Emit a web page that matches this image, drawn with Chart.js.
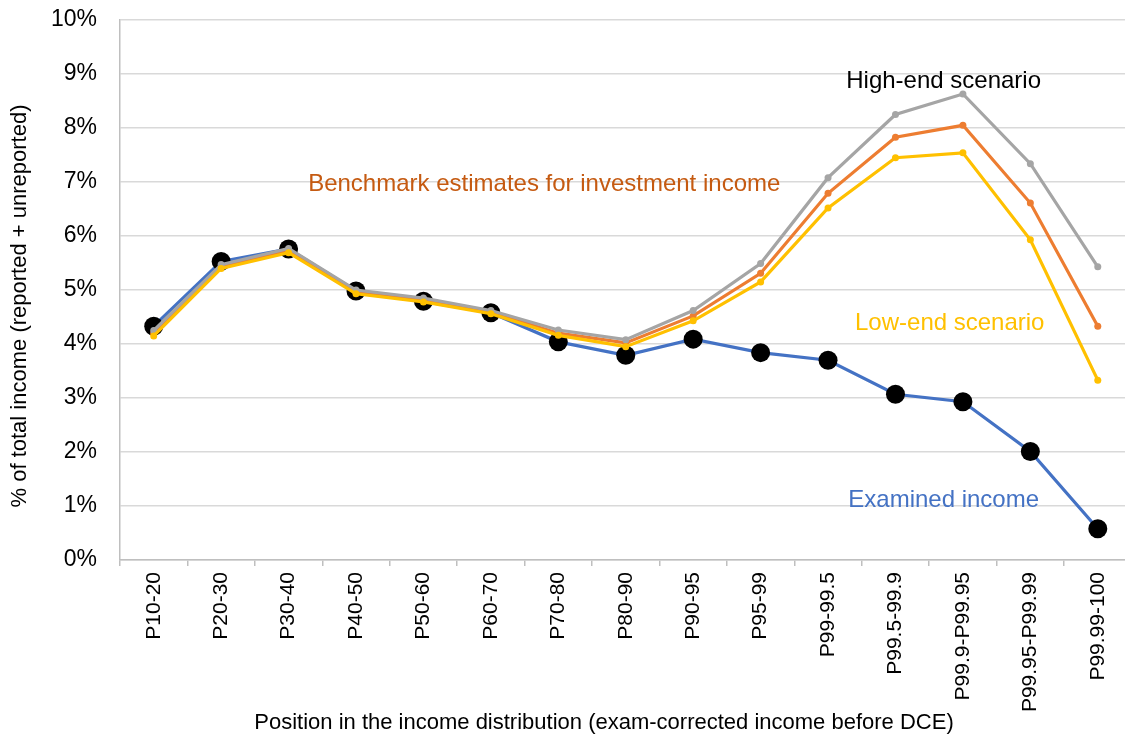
<!DOCTYPE html>
<html>
<head>
<meta charset="utf-8">
<script src="https://cdn.jsdelivr.net/npm/chart.js@4/dist/chart.umd.min.js"></script>
<style>
  html, body { margin: 0; padding: 0; background: #fff; overflow: hidden; }
  #wrap { width: 1125px; height: 738px; overflow: hidden; }
</style>
</head>
<body>
<div id="wrap"><canvas id="chart" width="1141" height="738"></canvas></div>
<script>
// categories and series (% of total income)
const categories = ['P10-20', 'P20-30', 'P30-40', 'P40-50', 'P50-60', 'P60-70', 'P70-80', 'P80-90',
  'P90-95', 'P95-99', 'P99-99.5', 'P99.5-99.9', 'P99.9-P99.95', 'P99.95-P99.99', 'P99.99-100'];
const examined  = [4.33, 5.53, 5.76, 4.98, 4.79, 4.58, 4.04, 3.79, 4.09, 3.84, 3.70, 3.07, 2.93, 2.01, 0.58];
const highEnd   = [4.25, 5.47, 5.77, 5.00, 4.85, 4.62, 4.26, 4.08, 4.62, 5.49, 7.08, 8.25, 8.63, 7.34, 5.43];
const benchmark = [4.20, 5.43, 5.73, 4.96, 4.81, 4.59, 4.20, 4.02, 4.52, 5.31, 6.79, 7.83, 8.05, 6.61, 4.33];
const lowEnd    = [4.15, 5.40, 5.69, 4.93, 4.78, 4.56, 4.16, 3.95, 4.43, 5.15, 6.52, 7.45, 7.54, 5.93, 3.33];

const FONT = "'Liberation Sans', Arial, sans-serif";

// text labels placed in data space: x = category index, y = percent
const notes = [
  { text: 'High-end scenario', x: 10.27, y: 8.87, color: '#000000' },
  { text: 'Benchmark estimates for investment income', x: 2.29, y: 6.96, color: '#C55A11' },
  { text: 'Low-end scenario', x: 10.40, y: 4.39, color: '#FFC000' },
  { text: 'Examined income', x: 10.30, y: 1.11, color: '#4472C4' }
];

const notesPlugin = {
  id: 'notes',
  afterDatasetsDraw(chart) {
    const { ctx, scales: { x, y } } = chart;
    const step = x.getPixelForValue(1) - x.getPixelForValue(0);
    ctx.save();
    ctx.font = `24px ${FONT}`;
    ctx.textBaseline = 'middle';
    ctx.textAlign = 'left';
    notes.forEach(n => {
      ctx.fillStyle = n.color;
      ctx.fillText(n.text, x.getPixelForValue(0) + n.x * step, y.getPixelForValue(n.y));
    });
    // x axis title
    ctx.fillStyle = '#000';
    ctx.textAlign = 'center';
    ctx.font = `22px ${FONT}`;
    ctx.fillText('Position in the income distribution (exam-corrected income before DCE)', 604, 723);
    // y axis title
    ctx.translate(20, 306);
    ctx.rotate(-Math.PI / 2);
    ctx.fillText('% of total income (reported + unreported)', 0, 0);
    ctx.restore();
  }
};

const thin = (color, order) => ({
  borderColor: color, backgroundColor: color,
  borderWidth: 3.2, pointRadius: 3.5, pointBorderWidth: 0,
  pointBackgroundColor: color, tension: 0, order
});

new Chart(document.getElementById('chart'), {
  type: 'line',
  data: {
    labels: categories,
    datasets: [
      { label: 'Low-end scenario', data: lowEnd, ...thin('#FFC000', 1) },
      { label: 'High-end scenario', data: highEnd, ...thin('#A5A5A5', 2) },
      { label: 'Benchmark', data: benchmark, ...thin('#ED7D31', 3) },
      {
        label: 'Examined income', data: examined, order: 4,
        borderColor: '#4472C4', borderWidth: 3.2,
        pointRadius: 9.5, pointBorderWidth: 0,
        pointBackgroundColor: '#000', pointBorderColor: '#000', tension: 0
      }
    ]
  },
  options: {
    responsive: false,
    animation: false,
    layout: { padding: { top: 20, right: 0, left: 0, bottom: 0 } },
    plugins: { legend: { display: false }, tooltip: { enabled: false } },
    scales: {
      x: {
        offset: true,
        grid: { offset: true, drawOnChartArea: false, drawTicks: true, tickLength: 6, color: '#bfbfbf', lineWidth: 1.5 },
        border: { color: '#bfbfbf', width: 1.5 },
        ticks: {
          color: '#000', font: { family: FONT, size: 21 },
          minRotation: 90, maxRotation: 90, padding: 6, autoSkip: false
        },
        afterFit(s) { s.height = 178; s.paddingLeft = 0; s.paddingRight = 0; }
      },
      y: {
        min: 0, max: 10,
        grid: { color: '#d9d9d9', lineWidth: 1.5, drawTicks: false },
        border: { color: '#bfbfbf', width: 1.5 },
        ticks: {
          stepSize: 1, color: '#000', padding: 23,
          font: { family: FONT, size: 23 },
          callback: v => v + '%'
        },
        afterFit(s) { s.width = 120; s.paddingTop = 0; s.paddingBottom = 0; }
      }
    }
  },
  plugins: [notesPlugin]
});
</script>
</body>
</html>
